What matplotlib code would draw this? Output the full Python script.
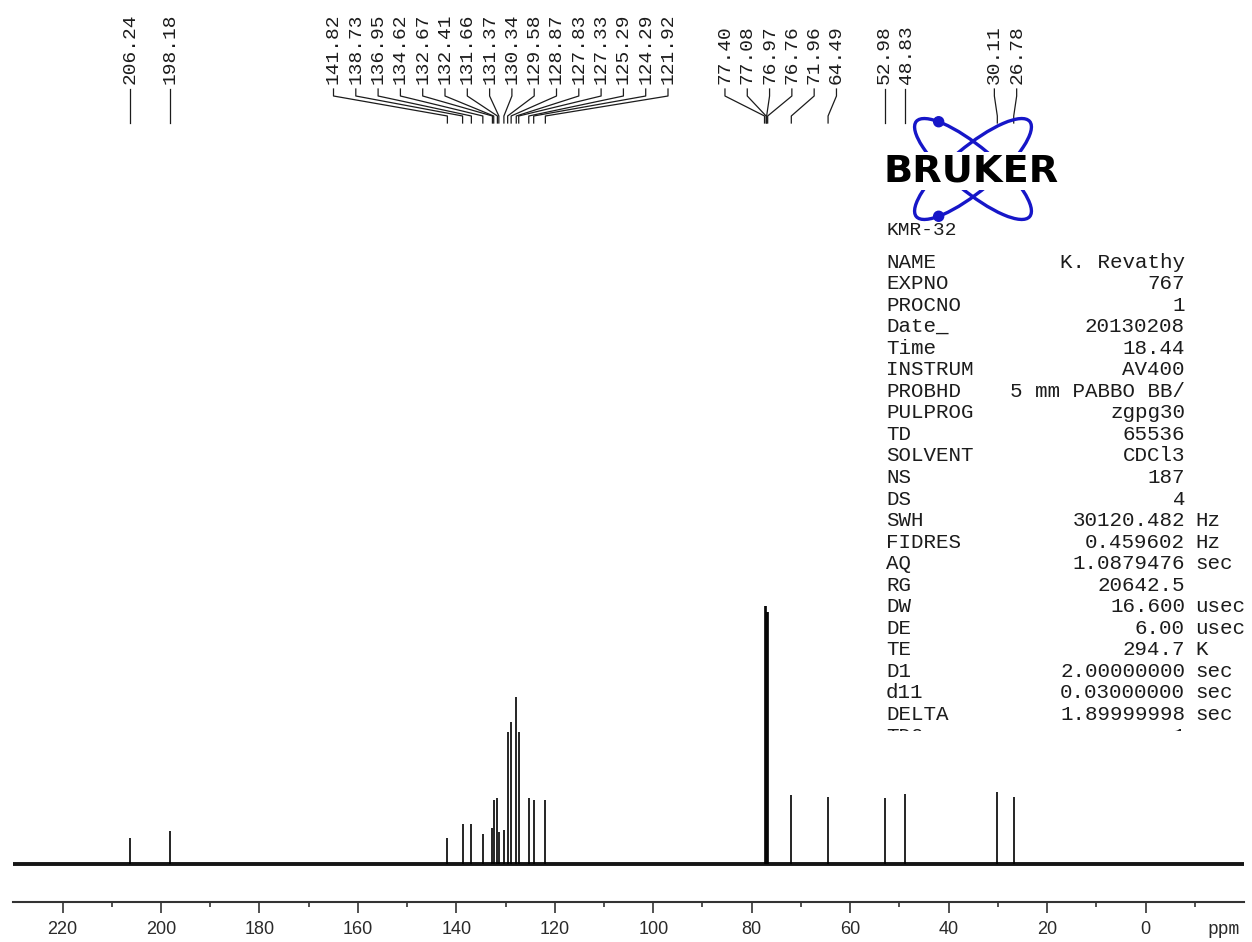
#!/usr/bin/env python3
"""
13C NMR spectrum plot with peak picking labels and acquisition parameters.
"""

import matplotlib
matplotlib.use("Agg")
import matplotlib.pyplot as plt
import numpy as np
from matplotlib.patches import Ellipse, Circle
from matplotlib.ticker import FixedLocator
from matplotlib.transforms import Bbox, TransformedBbox


W, H = 1252, 942
MONO = "Liberation Mono"
INK = "#1c1c1c"

# picked peaks: chemical shift (ppm) and height above baseline
peak_ppm = [206.24, 198.18,
            141.82, 138.73, 136.95, 134.62, 132.67, 132.41, 131.66, 131.37,
            130.34, 129.58, 128.87, 127.83, 127.33, 125.29, 124.29, 121.92,
            77.40, 77.08, 76.97, 76.76, 71.96, 64.49,
            52.98, 48.83, 30.11, 26.78]
peak_height = [26, 33,
               26, 40, 40, 30, 36, 64, 66, 32,
               34, 132, 142, 167, 132, 66, 64, 64,
               258, 258, 252, 252, 69, 67,
               66, 70, 72, 67]

x_major = list(range(0, 221, 20))
x_minor = list(range(-10, 211, 20))

param_names = ["NAME", "EXPNO", "PROCNO", "Date_", "Time", "INSTRUM", "PROBHD",
               "PULPROG", "TD", "SOLVENT", "NS", "DS", "SWH", "FIDRES", "AQ",
               "RG", "DW", "DE", "TE", "D1", "d11", "DELTA"]
param_values = ["K. Revathy", "767", "1", "20130208", "18.44", "AV400",
                "5 mm PABBO BB/", "zgpg30", "65536", "CDCl3", "187", "4",
                "30120.482", "0.459602", "1.0879476", "20642.5", "16.600",
                "6.00", "294.7", "2.00000000", "0.03000000", "1.89999998"]
param_units = ["", "", "", "", "", "", "", "", "", "", "", "",
               "Hz", "Hz", "sec", "", "usec", "usec", "K", "sec", "sec", "sec"]


def spread_labels(xs, gap):
    # merge neighbouring labels into groups centred on their peaks until none overlap
    groups = [[x] for x in xs]
    merged = True
    while merged:
        merged = False
        for i in range(len(groups) - 1):
            a, b = groups[i], groups[i + 1]
            a_end = np.mean(a) + (len(a) - 1) / 2 * gap
            b_start = np.mean(b) - (len(b) - 1) / 2 * gap
            if b_start - a_end < gap:
                groups[i] = a + b
                del groups[i + 1]
                merged = True
                break
    out = []
    for g in groups:
        c = np.mean(g)
        out += [c + (k - (len(g) - 1) / 2) * gap for k in range(len(g))]
    return out


def draw_logo(cv, cx, cy):
    a, b = 74, 22
    blue = "#1616c8"
    for ang, t in [(40, -140), (-40, 140)]:
        cv.add_patch(Ellipse((cx, cy), 2 * a, 2 * b, angle=ang, fill=False,
                             edgecolor=blue, lw=2.4, zorder=2))
        th, tt = np.radians(ang), np.radians(t)
        dx = a * np.cos(tt) * np.cos(th) - b * np.sin(tt) * np.sin(th)
        dy = a * np.cos(tt) * np.sin(th) + b * np.sin(tt) * np.cos(th)
        cv.add_patch(Circle((cx + dx, cy + dy), 5, color=blue, zorder=2))
    cv.text(cx - 2, cy + 2, "BRUKER", ha="center", va="center", fontsize=27.5,
            fontweight="bold", family="DejaVu Sans", color="black", zorder=3,
            bbox=dict(boxstyle="square,pad=0.02", fc="white", ec="none"))


def main():
    fig = plt.figure(figsize=(W / 100, H / 100), dpi=100)

    # spectrum axes: only the ppm scale is shown
    ax = fig.add_axes([13.3 / W, (H - 902) / H, (1244 - 13.3) / W, (902 - 122) / H])
    ax.set_xlim(230, -20)
    ax.set_ylim(-38, 742)
    ax.plot([230, -20], [0, 0], color="#151515", lw=2.8, solid_capstyle="butt")
    ax.vlines(peak_ppm, 0, peak_height, color="black", lw=1.2)
    for side in ["left", "right", "top"]:
        ax.spines[side].set_visible(False)
    ax.spines["bottom"].set_linewidth(1.5)
    ax.spines["bottom"].set_color("#333333")
    ax.set_yticks([])
    ax.xaxis.set_major_locator(FixedLocator(x_major))
    ax.xaxis.set_minor_locator(FixedLocator(x_minor))
    ax.tick_params(axis="x", which="major", direction="out", length=8, width=1.2,
                   pad=6, labelsize=13, color="#333333", labelcolor="#2a2a2a")
    ax.tick_params(axis="x", which="minor", direction="out", length=3.5, width=1.2,
                   color="#333333")
    for lab in ax.get_xticklabels():
        lab.set_fontfamily("Liberation Sans")

    # overlay in pixel units for labels, logo and parameter table
    cv = fig.add_axes([0, 0, 1, 1])
    cv.set_xlim(0, W)
    cv.set_ylim(H, 0)
    cv.axis("off")

    peak_x = [ax.transData.transform((p, 0))[0] for p in peak_ppm]
    label_x = spread_labels(peak_x, 22.3)
    for p, px, lx in zip(peak_ppm, peak_x, label_x):
        cv.text(lx, 84, f"{p:.2f}", rotation=90, ha="center", va="bottom",
                family=MONO, fontsize=14, color=INK)
        if abs(lx - px) < 1.0:
            cv.plot([px, px], [89, 123], color=INK, lw=0.9)
        else:
            cv.plot([lx, lx, px, px], [89, 96, 116, 123], color=INK, lw=0.9)

    cv.text(1224, 934, "ppm", ha="center", va="baseline", family=MONO,
            fontsize=13, color="#2a2a2a")

    draw_logo(cv, 973, 169)
    cv.text(886, 235, "KMR-32", ha="left", va="baseline", family=MONO,
            fontsize=14, color=INK)

    step = 21.55
    for i, (name, val, unit) in enumerate(zip(param_names, param_values, param_units)):
        y = 267.5 + i * step
        cv.text(886, y, name, ha="left", va="baseline", family=MONO, fontsize=15, color=INK)
        cv.text(1185, y, val, ha="right", va="baseline", family=MONO, fontsize=15, color=INK)
        if unit:
            cv.text(1195, y, unit, ha="left", va="baseline", family=MONO, fontsize=15, color=INK)

    # next row is cut off at the bottom of the parameter block
    clip = TransformedBbox(Bbox([[0, 0], [W, 731]]), cv.transData)
    y = 267.5 + len(param_names) * step
    for x, s, ha in [(886, "TD0", "left"), (1185, "1", "right")]:
        t = cv.text(x, y, s, ha=ha, va="baseline", family=MONO, fontsize=15, color=INK)
        t.set_clip_on(True)
        t.set_clip_path(None)
        t.set_clip_box(clip)

    fig.savefig("out.png", dpi=100)
    plt.close(fig)


if __name__ == "__main__":
    main()
